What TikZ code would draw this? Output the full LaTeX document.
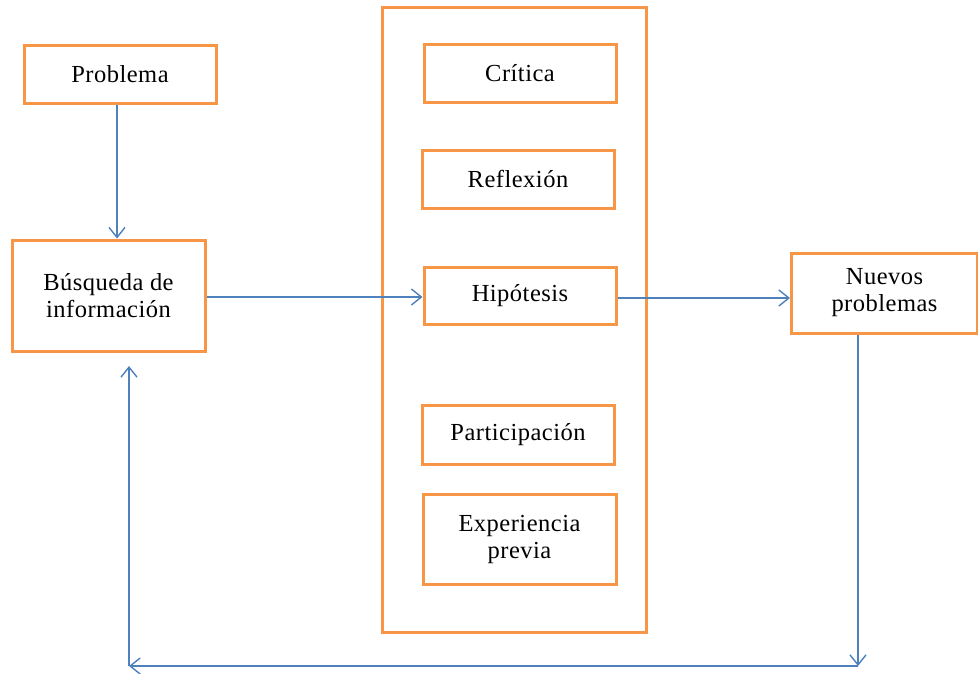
\documentclass[tikz,border=0pt]{standalone}
\usepackage{fontspec}
\setmainfont[LetterSpace=2]{Liberation Serif}
\usetikzlibrary{arrows.meta}
\definecolor{boxorange}{RGB}{247,150,70}
\definecolor{lineblue}{RGB}{79,129,189}
\begin{document}
\begin{tikzpicture}[x=1pt,y=-1pt,
  box/.style={draw=boxorange,line width=3pt,rectangle,align=center,inner sep=0pt,
    font=\fontsize{24.5}{27}\selectfont},
  conn/.style={draw=lineblue,line width=1.4pt,-{Straight Barb[length=10pt,width=16pt,line width=1.4pt]}},
  plain/.style={draw=lineblue,line width=1.4pt}]
\useasboundingbox (0,0) rectangle (978,673);
\node[draw=boxorange,line width=3pt,minimum width=264pt,minimum height=625pt,inner sep=0pt] (cont) at (514,319.5) {};
\node[box,minimum width=192pt,minimum height=58pt] (prob) at (120,74) {Problema};
\node[box,minimum width=193pt,minimum height=111pt] (busq) at (108.5,295.5) {Búsqueda de\\información};
\node[box,minimum width=192pt,minimum height=58pt] (crit) at (520,73) {Crítica};
\node[box,minimum width=192pt,minimum height=58pt] (refl) at (518,179) {Reflexión};
\node[box,minimum width=192pt,minimum height=57pt] (hipo) at (520,295.5) {Hipótesis};
\node[box,minimum width=192pt,minimum height=59pt] (part) at (518,434.5) {Participación};
\node[box,minimum width=193pt,minimum height=90pt] (expe) at (519.5,539) {Experiencia\\previa};
\node[box,minimum width=186pt,minimum height=80pt] (nuev) at (884.5,293) {Nuevos\\problemas};
\coordinate (br) at (858,666);
\coordinate (bl) at (129,666);
\coordinate (up) at (129,366);
\draw[conn] (prob.south -| 117,0) -- (busq.north -| 117,0);
\draw[conn] (busq.east |- 0,297) -- (hipo.west |- 0,297);
\draw[conn] (hipo.east |- 0,298) -- (nuev.west |- 0,298);
\draw[conn] (nuev.south -| br) -- (br);
\draw[conn] (br) -- (bl);
\draw[conn] (bl) -- (up);
\end{tikzpicture}
\end{document}
